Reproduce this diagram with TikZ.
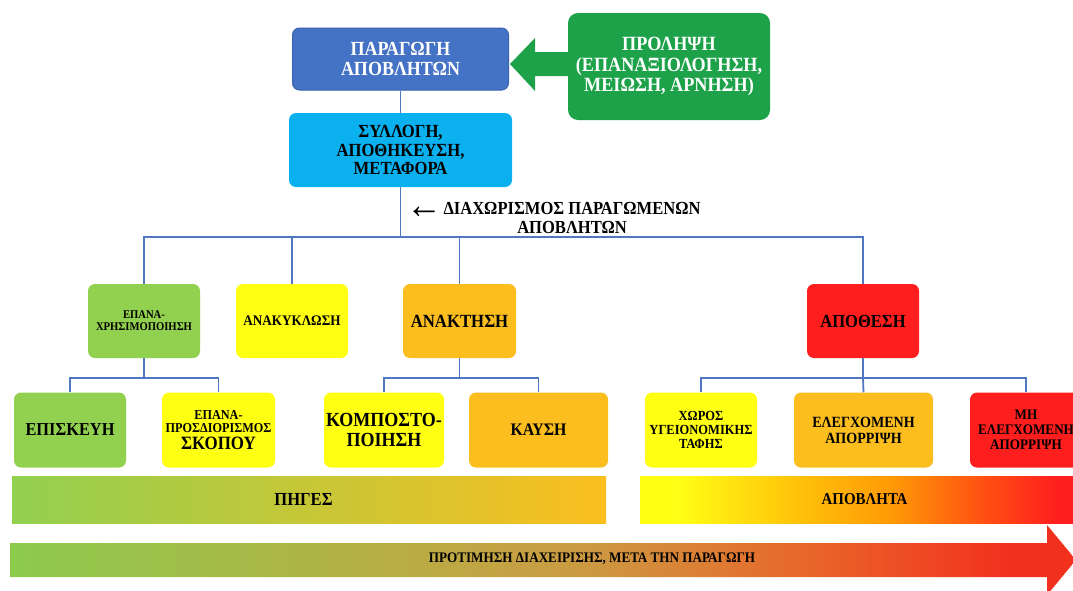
\documentclass[tikz,border=0pt]{standalone}
\usepackage{fontspec}
\setmainfont{Liberation Serif}[FakeStretch=0.9]
\usetikzlibrary{calc}

\definecolor{prodblue}{HTML}{4472C4}
\definecolor{prodedge}{HTML}{3A62AE}
\definecolor{prevgreen}{HTML}{1DA24A}
\definecolor{collcyan}{HTML}{0BB0EF}
\definecolor{lgreen}{HTML}{92D050}
\definecolor{yell}{HTML}{FFFF14}
\definecolor{orng}{HTML}{FBBE1E}
\definecolor{redc}{HTML}{FF1E1E}
\definecolor{linkblue}{HTML}{5077C2}
% gradient colours
\definecolor{srcmid}{HTML}{D4C83C}
\definecolor{wasteamber}{HTML}{FFC20A}
\definecolor{wasteorange}{HTML}{FF9A06}
\definecolor{wastered}{HTML}{FF5012}
\definecolor{agreen}{HTML}{8CCB4C}
\definecolor{aolive}{HTML}{B8AE45}
\definecolor{atan}{HTML}{CC9A42}
\definecolor{aorange}{HTML}{E8682A}
\definecolor{ared}{HTML}{F2301E}

\pgfdeclarehorizontalshading{wasteshade}{100bp}{color(0bp)=(yell); color(29bp)=(yell); color(42bp)=(wasteamber); color(52bp)=(wasteorange); color(62bp)=(wastered); color(70bp)=(redc); color(100bp)=(redc)}
\pgfdeclarehorizontalshading{prefshade}{100bp}{color(0bp)=(agreen); color(25bp)=(agreen); color(43bp)=(aolive); color(52bp)=(atan); color(62bp)=(aorange); color(72bp)=(ared); color(100bp)=(ared)}

\tikzset{
  box/.style={rounded corners=7pt, align=center, inner sep=2pt, text=black},
  fs/.style={font=\bfseries\fontsize{#1}{1.02\dimexpr#1pt\relax}\selectfont},
  link/.style={draw=linkblue, line width=1.8pt},
}

\begin{document}
\begin{tikzpicture}[x=1pt, y=-1pt]
\useasboundingbox (0,0) rectangle (1073,590);

% top of the chain
\node[box, fill=prodblue, draw=prodedge, line width=1pt, text=white, minimum width=216, minimum height=62, fs=20] (prod) at (400.5,59) {ΠΑΡΑΓΩΓΗ\\ΑΠΟΒΛΗΤΩΝ};
\node[box, fill=prevgreen, text=white, minimum width=202, minimum height=107, rounded corners=10pt, fs=20.2] (prev) at (669,66.5) {ΠΡΟΛΗΨΗ\\(ΕΠΑΝΑΞΙΟΛΟΓΗΣΗ,\\ΜΕΙΩΣΗ, ΑΡΝΗΣΗ)};
\node[box, fill=collcyan, minimum width=223, minimum height=74, fs=18.5] (coll) at (400.5,150) {ΣΥΛΛΟΓΗ,\\ΑΠΟΘΗΚΕΥΣΗ,\\ΜΕΤΑΦΟΡΑ};

% block arrow from prevention to production
\fill[prevgreen] (prev.west |- 0,52) -- (535,52) -- (535,38) -- (510,64) -- (535,91) -- (535,76) -- (prev.west |- 0,76) -- cycle;

\node[align=center, fs=18.4] (split) at (572,218)
  {\llap{\raisebox{-4pt}{\mdseries\fontsize{40}{40}\selectfont ←}\hspace{1pt}}ΔΙΑΧΩΡΙΣΜΟΣ ΠΑΡΑΓΩΜΕΝΩΝ\\ΑΠΟΒΛΗΤΩΝ};

% second level
\node[box, fill=lgreen, minimum width=112, minimum height=74, fs=11.8] (reuse) at (144,321) {ΕΠΑΝΑ-\\ΧΡΗΣΙΜΟΠΟΙΗΣΗ};
\node[box, fill=yell, minimum width=112, minimum height=74, fs=14.6] (recyc) at (292,321) {ΑΝΑΚΥΚΛΩΣΗ};
\node[box, fill=orng, minimum width=113, minimum height=74, fs=18.6] (recov) at (459.5,321) {ΑΝΑΚΤΗΣΗ};
\node[box, fill=redc, minimum width=112, minimum height=74, fs=18.4] (disp) at (863,321) {ΑΠΟΘΕΣΗ};

% third level
\node[box, fill=lgreen, minimum width=112, minimum height=75, fs=18.2] (repair) at (70,430) {ΕΠΙΣΚΕΥΗ};
\node[box, fill=yell, minimum width=113, minimum height=75, fs=13.6] (repurp) at (218.5,430)
  {ΕΠΑΝΑ-\\ΠΡΟΣΔΙΟΡΙΣΜΟΣ\\[3pt]{\fontsize{18.8}{19}\selectfont ΣΚΟΠΟΥ}};
\node[box, fill=yell, minimum width=120, minimum height=75, fs=20] (compost) at (384,430) {ΚΟΜΠΟΣΤΟ-\\ΠΟΙΗΣΗ};
\node[box, fill=orng, minimum width=139, minimum height=75, fs=17.6] (incin) at (538.5,430) {ΚΑΥΣΗ};
\node[box, fill=yell, minimum width=112, minimum height=75, fs=13.9] (landfill) at (701,430) {ΧΩΡΟΣ\\ΥΓΕΙΟΝΟΜΙΚΗΣ\\ΤΑΦΗΣ};
\node[box, fill=orng, minimum width=139, minimum height=75, fs=15.6] (ctrl) at (863.5,430) {ΕΛΕΓΧΟΜΕΝΗ\\ΑΠΟΡΡΙΨΗ};
\node[box, fill=redc, minimum width=112, minimum height=75, fs=14.6] (unctrl) at (1026,430) {ΜΗ\\ΕΛΕΓΧΟΜΕΝΗ\\ΑΠΟΡΡΙΨΗ};

% connectors
\coordinate (bus) at (0,237);
\coordinate (busA) at (0,378);
\draw[link] (prod.south) -- (coll.north);
\draw[link] (coll.south) -- (coll.south |- bus) -| (reuse.north);
\draw[link] (coll.south |- bus) -| (recyc.north);
\draw[link] (coll.south |- bus) -| (recov.north);
\draw[link] (coll.south |- bus) -| (disp.north);
\draw[link] (reuse.south) -- (reuse.south |- busA) -| (repair.north);
\draw[link] (reuse.south |- busA) -| (repurp.north);
\draw[link] (recov.south) -- (recov.south |- busA) -| (compost.north);
\draw[link] (recov.south |- busA) -| (incin.north);
\draw[link] (disp.south) -- (disp.south |- busA) -| (landfill.north);
\draw[link] (disp.south |- busA) -- (ctrl.north);
\draw[link] (disp.south |- busA) -| (unctrl.north);

% bands
\shade[left color=lgreen, middle color=srcmid, right color=orng] (12,476) rectangle (606,523);
\node[fs=18.4] (sources) at (303.5,499.5) {ΠΗΓΕΣ};
\shade[shading=wasteshade] (640,476) rectangle (1104,523);
\node[fs=16.6] (waste) at (864.5,499.5) {ΑΠΟΒΛΗΤΑ};

% preference arrow
\shade[shading=prefshade] (10,543) -- (1047,543) -- (1047,525) -- (1076,560) -- (1047,595) -- (1047,577) -- (10,577) -- cycle;
\node[fs=14.6] (pref) at (592,559) {ΠΡΟΤΙΜΗΣΗ ΔΙΑΧΕΙΡΙΣΗΣ, ΜΕΤΑ ΤΗΝ ΠΑΡΑΓΩΓΗ};
\end{tikzpicture}
\end{document}
